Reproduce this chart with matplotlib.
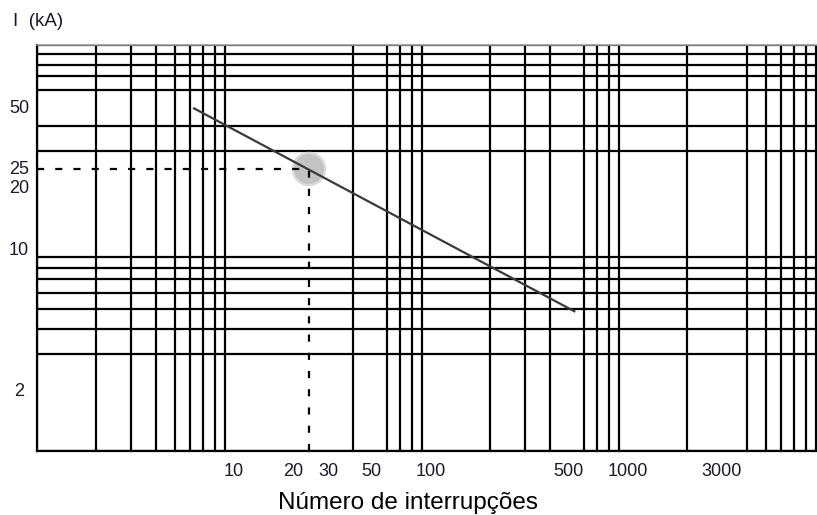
import numpy as np
import matplotlib
matplotlib.use('Agg')
import matplotlib.pyplot as plt
from matplotlib.ticker import FixedLocator, NullFormatter

# ── Data ─────────────────────────────────────────────────────────────────────
curve_n = [6.2, 540]        # number of interruptions, line ends
curve_i = [49, 4.85]        # current (kA), line ends
mark_n = 24                 # reading point: interruptions
mark_i = 24.5               # reading point: current (kA)

x_tick_vals = [10, 20, 30, 50, 100, 500, 1000, 3000]
x_tick_text = ['10', '20', '30', '50', '100', '500', '1000', '3000']
y_tick_vals = [2, 10, 20, 25, 50]
y_tick_text = ['2', '10', '20', '25', '50']

# log grid positions (1..9 in every decade)
x_grid = [m * 10**e for e in range(4) for m in range(1, 10)] + [10000]
y_grid = [m * 10**e for e in range(2) for m in range(1, 10)] + [100]

plt.rcParams['font.family'] = ['Liberation Sans', 'DejaVu Sans']

fig = plt.figure(figsize=(8.17, 5.15), dpi=100)
ax = fig.add_axes([37/817, 1 - 451/515, 788/817, 406/515])

ax.set_xscale('log')
ax.set_yscale('log')
ax.set_xlim(1, 10000)
ax.set_ylim(1, 100)

# grid drawn from minor ticks, labels from major ticks
ax.xaxis.set_minor_locator(FixedLocator(x_grid))
ax.yaxis.set_minor_locator(FixedLocator(y_grid))
ax.xaxis.set_minor_formatter(NullFormatter())
ax.yaxis.set_minor_formatter(NullFormatter())
ax.grid(which='minor', color='black', lw=1.6, zorder=1)
ax.grid(which='major', visible=False)

ax.set_xticks(x_tick_vals)
ax.set_xticklabels(x_tick_text)
ax.set_yticks(y_tick_vals)
ax.set_yticklabels(y_tick_text)
ax.tick_params(which='both', length=0)
ax.tick_params(axis='x', pad=9, labelsize=13, labelcolor='#1a1a2a')
ax.tick_params(axis='y', pad=13, labelsize=13, labelcolor='#1a1a2a')
for lab in ax.get_yticklabels():
    lab.set_horizontalalignment('center')

for side in ['left', 'bottom']:
    ax.spines[side].set_color('black')
    ax.spines[side].set_linewidth(1.6)
ax.spines['top'].set_color('#999999')
ax.spines['top'].set_linewidth(1.2)
ax.spines['right'].set_visible(False)

# highlight disk at reading point (soft edge)
ax.scatter([mark_n], [mark_i], s=620, color='#d2d2d2', edgecolors='none',
           alpha=0.8, zorder=2)
ax.scatter([mark_n], [mark_i], s=460, color='#bdbdbd', edgecolors='none',
           alpha=0.8, zorder=2)

# dashed reading lines
ax.plot([1, mark_n], [mark_i, mark_i], color='black', lw=1.6,
        ls=(0, (3.2, 5)), zorder=3)
ax.plot([mark_n, mark_n], [1, mark_i], color='black', lw=1.6,
        ls=(0, (3.2, 5)), zorder=3)

# characteristic line
ax.plot(curve_n, curve_i, color='#3a3a3a', lw=1.6, zorder=4,
        solid_capstyle='butt')

fig.text(13/817, 1 - 21/515, 'I  (kA)', fontsize=13.5, color='#1a1a2a',
         ha='left', va='center')
fig.text(407.5/817, 6/515, 'Número de interrupções', fontsize=17.5,
         color='black', ha='center', va='baseline')

fig.savefig('out.png', dpi=100)
